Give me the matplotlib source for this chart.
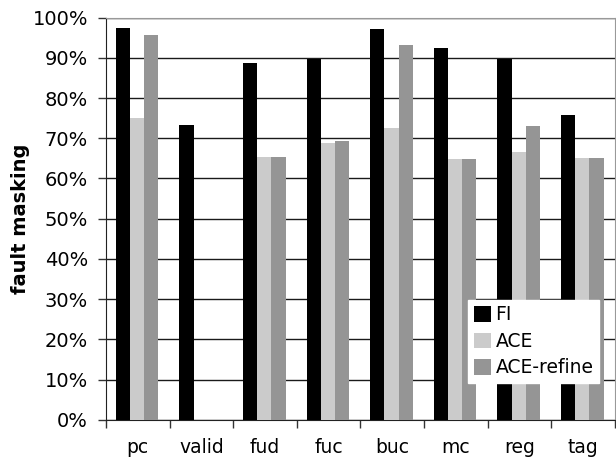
import numpy as np
import matplotlib
matplotlib.use("Agg")
import matplotlib.pyplot as plt
from matplotlib.ticker import PercentFormatter

categories = ["pc", "valid", "fud", "fuc", "buc", "mc", "reg", "tag"]
fi = [97.4, 73.3, 88.7, 89.7, 97.1, 92.4, 89.7, 75.8]
ace = [75.1, 0.0, 65.4, 68.9, 72.6, 64.9, 66.6, 65.1]
ace_refine = [95.7, 0.0, 65.4, 69.4, 93.2, 64.9, 73.1, 65.1]

series = [("FI", fi, "#000000"), ("ACE", ace, "#cbcbcb"), ("ACE-refine", ace_refine, "#959595")]

plt.rcParams["font.family"] = ["DejaVu Sans"]

fig = plt.figure(figsize=(6.16, 4.61), dpi=100)
ax = fig.add_axes([0.172, 0.089, 0.826, 0.873])

x = np.arange(len(categories))
width = 0.224
for i, (name, vals, color) in enumerate(series):
    ax.bar(x + (i - 1) * width - 0.01, vals, width, color=color, label=name, zorder=3)

ax.set_xlim(-0.5, len(categories) - 0.5)
ax.set_ylim(0, 100)
ax.set_yticks(np.arange(0, 101, 10))
ax.yaxis.set_major_formatter(PercentFormatter(decimals=0))
ax.yaxis.grid(True, color="#1a1a1a", linewidth=1.0, zorder=0)

# category labels centred, ticks on the boundaries between groups
ax.set_xticks(x)
ax.set_xticklabels(categories, fontsize=13.5)
ax.tick_params(axis="x", length=0, pad=13)
ax.set_xticks(np.arange(-0.5, len(categories) + 0.5, 1), minor=True)
ax.tick_params(axis="x", which="minor", length=6, width=1, color="#333333")
ax.tick_params(axis="y", length=6, width=1, color="#333333", labelsize=14, pad=7)

for side in ("left", "bottom"):
    ax.spines[side].set_color("#222222")
for side in ("top", "right"):
    ax.spines[side].set_color("#999999")

ax.set_ylabel("fault masking", fontsize=14, fontweight="bold", labelpad=2)

leg = ax.legend(loc="lower right", bbox_to_anchor=(0.969, 0.092), fontsize=13.5,
                frameon=True, fancybox=False, edgecolor="white", framealpha=1,
                handlelength=0.9, handleheight=0.9, handletextpad=0.25,
                labelspacing=0.4, borderpad=0.3, borderaxespad=0)
leg.set_zorder(5)

fig.savefig("out.png", dpi=100)
